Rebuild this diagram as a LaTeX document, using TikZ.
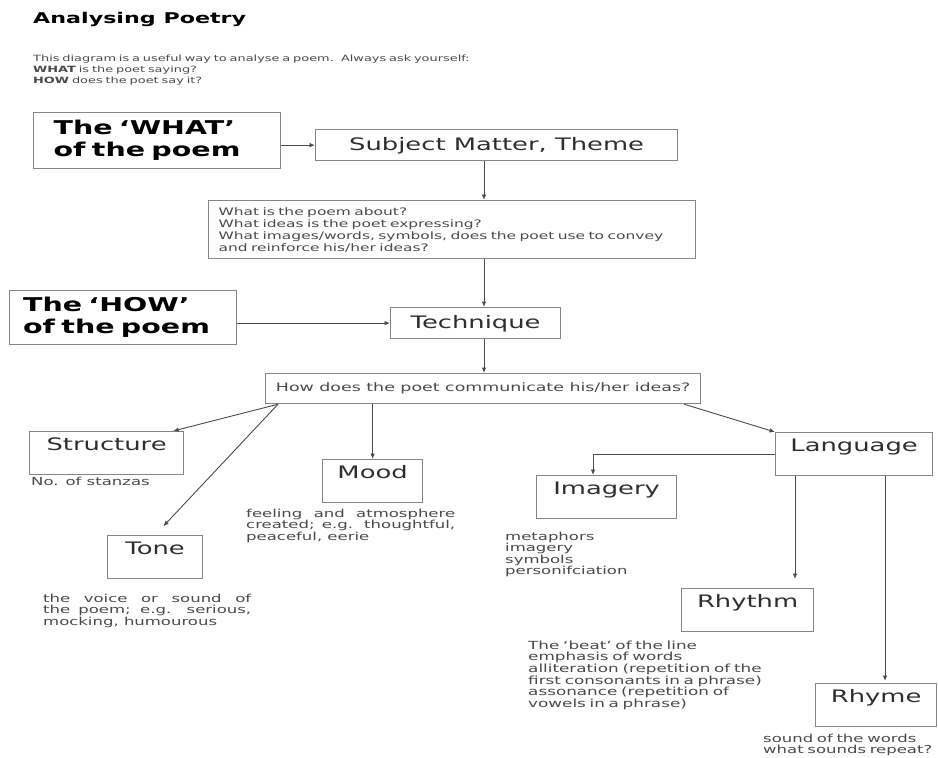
\documentclass[tikz,border=0pt]{standalone}
\usepackage{fontspec}
\setmainfont{DejaVu Sans}[FakeStretch=1.5]
\usetikzlibrary{arrows.meta,calc}
\definecolor{txt}{HTML}{2E2E2E}
\definecolor{smtxt}{HTML}{4A4A4A}
\definecolor{boxc}{HTML}{858585}
\definecolor{linec}{HTML}{4A4A4A}
\begin{document}
\begin{tikzpicture}[x=1pt,y=-1pt,
  box/.style={draw=boxc, line width=1.2pt, inner sep=0pt, text=txt},
  lbox/.style={box, font=\fontsize{17.2}{20}\selectfont, text height=19pt, text depth=24pt},
  cbox/.style={box, font=\fontsize{17.2}{20}\selectfont, text height=21pt, text depth=10pt},
  bigbox/.style={box, font=\bfseries\fontsize{19}{22}\selectfont, text=black},
  small/.style={font=\fontsize{11}{11.5}\selectfont, text=smtxt},
  note/.style={small, inner sep=0pt},
  arr/.style={draw=linec, line width=0.9pt, -{Latex[length=5.5pt,width=4.5pt]}}
]
\fill[white] (0,0) rectangle (938,758);
\useasboundingbox (0,0) rectangle (938,758);

% title and intro
\node[anchor=base west, inner sep=0pt, font=\bfseries\fontsize{14.8}{17}\selectfont, text=black] (title) at (33,23) {Analysing Poetry};
\node[note, font=\fontsize{8.6}{11.3}\selectfont, anchor=base west, text width=700pt, align=left] (intro) at (33,61)
  {This diagram is a useful way to analyse a poem.~ Always ask yourself:\\
   \textbf{WHAT} is the poet saying?\\
   \textbf{HOW} does the poet say it?};

% upper boxes
\node[bigbox, anchor=north west, minimum width=247pt, minimum height=56pt, text width=207pt, inner xsep=20pt, align=left] (what) at (33,112) {The ‘WHAT’\\of the poem};
\node[cbox, anchor=north west, minimum width=362pt] (subj) at (315,129) {Subject Matter, Theme};
\node[box, small, font=\fontsize{10.3}{12}\selectfont, text=smtxt, anchor=north west, minimum width=487pt, minimum height=58pt, text width=467pt, inner xsep=10pt, align=left] (q1) at (208,200)
  {What is the poem about?\\
   What ideas is the poet expressing?\\
   What images/words, symbols, does the poet use to convey\\
   and reinforce his/her ideas?};
\node[bigbox, anchor=north west, minimum width=227pt, minimum height=54pt, text width=200pt, inner xsep=13.5pt, align=left] (how) at (9,290) {The ‘HOW’\\of the poem};
\node[cbox, anchor=north west, minimum width=170pt] (tech) at (390,307) {Technique};
\node[box, small, font=\fontsize{11.6}{13}\selectfont, text=smtxt, anchor=north west, minimum width=435pt, minimum height=30pt] (q2) at (265,373) {How does the poet communicate his/her ideas?};

% lower boxes
\node[lbox, anchor=north west, minimum width=154pt] (struct) at (29,431) {Structure};
\node[lbox, anchor=north west, minimum width=95pt] (tone) at (107,535) {Tone};
\node[lbox, anchor=north west, minimum width=100pt] (mood) at (322,459) {Mood};
\node[lbox, anchor=north west, minimum width=157pt] (lang) at (775,432) {Language};
\node[lbox, anchor=north west, minimum width=140pt] (img) at (536,475) {Imagery};
\node[lbox, anchor=north west, minimum width=132pt] (rhythm) at (681,588) {Rhythm};
\node[lbox, anchor=north west, minimum width=121pt] (rhyme) at (815,683) {Rhyme};

% notes
\node[note, anchor=base west] (nst) at (31,485) {No. of stanzas};
\node[note, anchor=base west, text width=208pt, align=justify] (tonet) at (43,602)
  {the voice or sound of\linebreak the poem; e.g. serious,\linebreak mocking, humourous};
\node[note, anchor=base west, text width=209pt, align=justify] (moodt) at (246,517)
  {feeling and atmosphere\linebreak created; e.g. thoughtful,\linebreak peaceful, eerie};
\node[note, anchor=base west, text width=150pt, align=left] (imgt) at (505,540)
  {metaphors\\imagery\\symbols\\personifciation};
\node[note, font=\fontsize{11.2}{11.7}\selectfont, anchor=base west, text width=270pt, align=left] (rhyt) at (528,649)
  {The ‘beat’ of the line\\emphasis of words\\alliteration (repetition of the\\first consonants in a phrase)\\assonance (repetition of\\vowels in a phrase)};
\node[note, anchor=base west, text width=175pt, align=left] (rhymet) at (763,742)
  {sound of the words\\what sounds repeat?};

% connectors
\coordinate (vx) at (484,0);
\coordinate (rx) at (795,0);
\coordinate (yx) at (885,0);
\coordinate (q2l) at ($(q2.south west)+(13,0)$);
\coordinate (q2r) at ($(q2.south east)+(-17,0)$);
\coordinate (structin) at ($(struct.north east)+(-11,0)$);
\coordinate (imgin) at ($(img.north west)+(57,0)$);

\draw[arr] (what.east |- subj.west) -- (subj.west);
\draw[arr] (subj.south -| vx) -- (q1.north -| vx);
\draw[arr] (q1.south -| vx) -- (tech.north -| vx);
\draw[arr] (how.east |- tech.west) -- (tech.west);
\draw[arr] (tech.south -| vx) -- (q2.north -| vx);
\draw[arr] (q2l) -- (structin);
\draw[arr, shorten >=12pt] (q2l) -- (tone.north);
\draw[arr] (mood.north |- q2.south) -- (mood.north);
\draw[arr] (q2r) -- (lang.north west);
\draw[arr] (lang.west) -| (imgin);
\draw[arr, shorten >=9pt] (lang.south -| rx) -- (rhythm.north -| rx);
\draw[arr, shorten >=2pt] (lang.south -| yx) -- (rhyme.north -| yx);
\end{tikzpicture}
\end{document}
